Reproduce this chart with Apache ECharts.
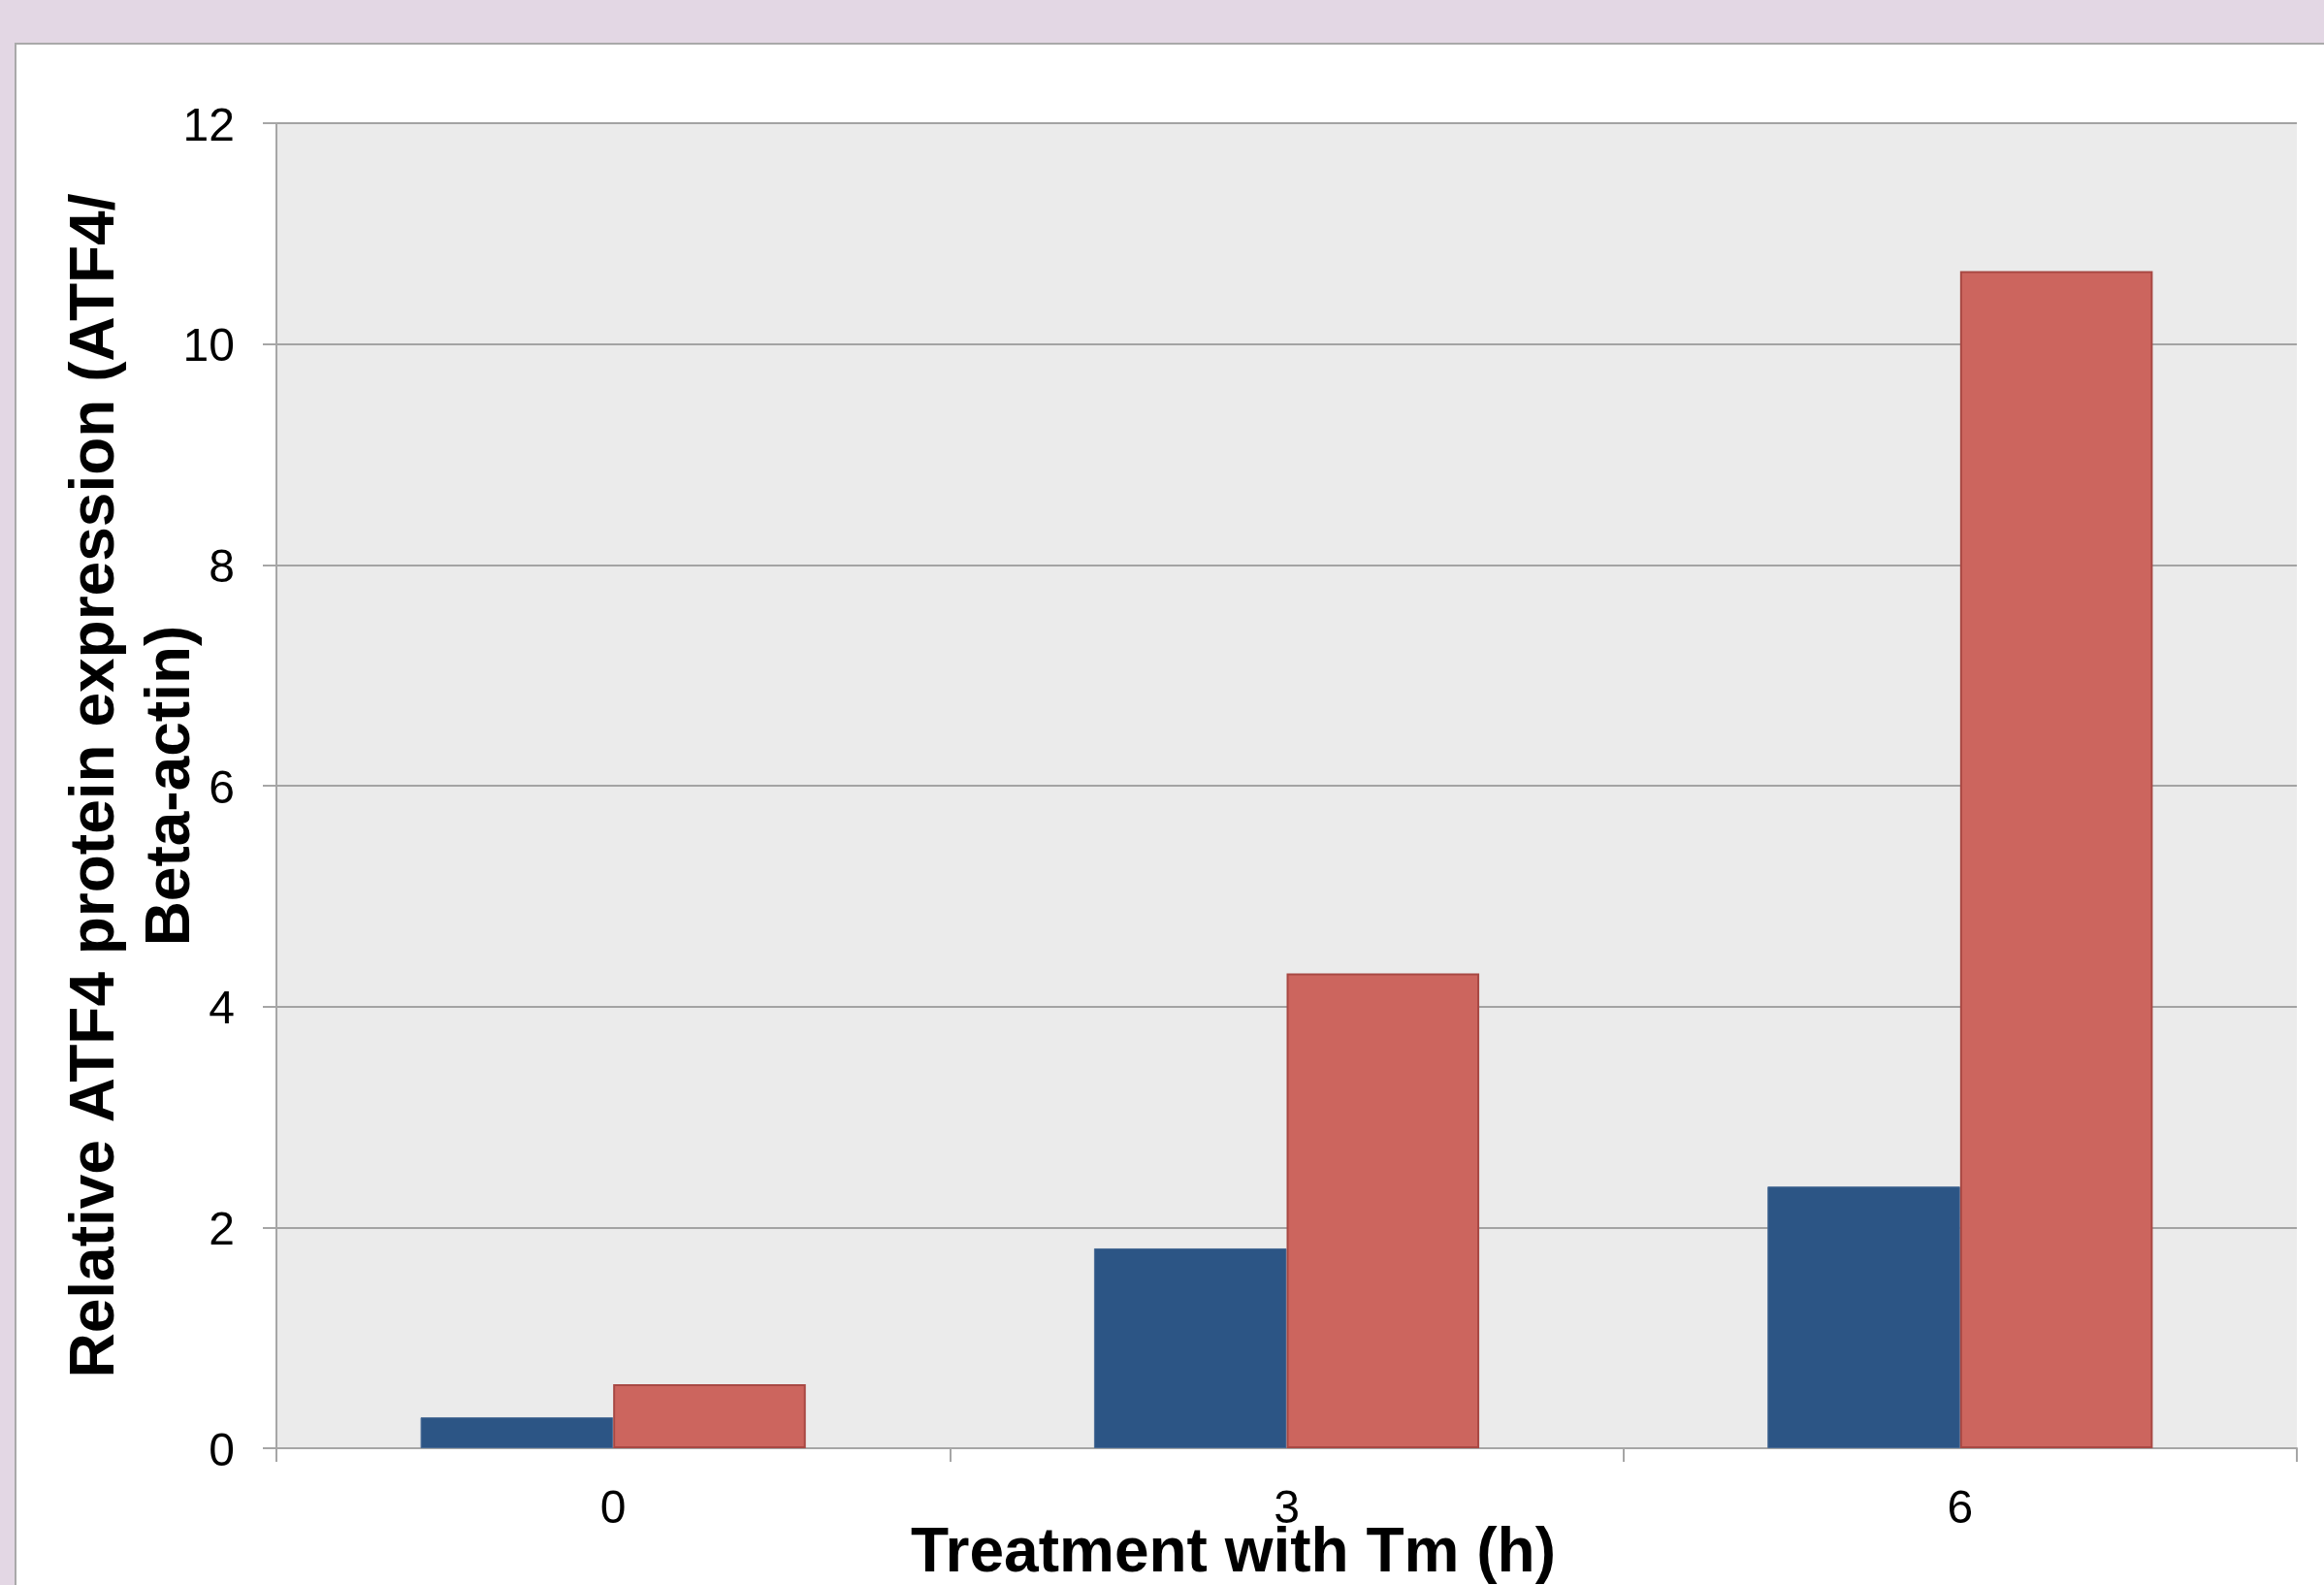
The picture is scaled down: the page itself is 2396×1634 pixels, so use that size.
<!DOCTYPE html>
<html>
<head>
<meta charset="utf-8">
<script src="https://cdn.jsdelivr.net/npm/echarts@6/dist/echarts.min.js"></script>
<style>
  html, body { margin: 0; padding: 0; width: 2396px; height: 1634px; overflow: hidden; background: #E3D7E4; }
  #panel { position: absolute; left: 15px; top: 44px; width: 2400px; height: 1700px; background: #FFFFFF; border-left: 2px solid #A9A9A9; border-top: 2px solid #A9A9A9; }
  #chart { position: absolute; left: 0; top: 0; width: 2396px; height: 1634px; }
</style>
</head>
<body>
<div id="panel"></div>
<div id="chart"></div>
<script>
const categories = ['0', '3', '6'];
const controlValues = [0.28, 1.81, 2.37];
const treatedValues = [0.58, 4.30, 10.66];
const yAxisTitle = 'Relative ATF4 protein expression (ATF4/\nBeta-actin)';
const xAxisTitle = 'Treatment with Tm (h)';

const FONT = '"Liberation Sans", Arial, Helvetica, sans-serif';
const chart = echarts.init(document.getElementById('chart'), null, { renderer: 'canvas' });
chart.setOption({
  backgroundColor: 'transparent',
  animation: false,
  grid: {
    left: 285, top: 127, right: 28, bottom: 141,
    show: true, backgroundColor: '#EBEBEB', borderWidth: 0,
    containLabel: false, outerBoundsMode: 'none'
  },
  xAxis: {
    type: 'category',
    data: categories,
    boundaryGap: true,
    axisLine: { show: true, lineStyle: { color: '#A6A6A6', width: 2 } },
    axisTick: { show: true, alignWithLabel: false, length: 14, lineStyle: { color: '#A6A6A6', width: 2 } },
    axisLabel: { margin: 40, color: '#000', fontSize: 48, fontFamily: FONT },
    splitLine: { show: false },
    name: xAxisTitle,
    nameLocation: 'middle',
    nameGap: 77,
    nameMoveOverlap: false,
    nameTextStyle: { color: '#000', fontSize: 64, fontWeight: 'bold', fontFamily: FONT, padding: [0, 110, 0, 0] }
  },
  yAxis: {
    type: 'value',
    min: 0, max: 12, interval: 2,
    axisLine: { show: true, lineStyle: { color: '#A6A6A6', width: 2 } },
    axisTick: { show: true, length: 14, lineStyle: { color: '#A6A6A6', width: 2 } },
    axisLabel: {
      margin: 43, color: '#000', fontSize: 48, fontFamily: FONT,
      formatter: '{v|{value}}',
      rich: { v: { color: '#000', fontSize: 48, fontFamily: FONT, padding: [9, 0, 0, 0] } }
    },
    splitLine: { show: true, lineStyle: { color: '#A3A3A3', width: 2 } },
    name: yAxisTitle,
    nameLocation: 'middle',
    nameGap: 69,
    nameRotate: 90,
    nameMoveOverlap: false,
    nameTextStyle: { color: '#000', fontSize: 64, fontWeight: 'bold', fontFamily: FONT, lineHeight: 78, align: 'center' }
  },
  series: [
    {
      name: 'Control',
      type: 'bar',
      data: controlValues,
      barWidth: '28.6%',
      barGap: '0%',
      itemStyle: { color: '#2C5585', borderColor: '#4A6C96', borderWidth: 1 }
    },
    {
      name: 'Tm',
      type: 'bar',
      data: treatedValues,
      barWidth: '28.6%',
      barGap: '0%',
      itemStyle: { color: '#CC655E', borderColor: '#A84843', borderWidth: 2 }
    }
  ]
});
</script>
</body>
</html>
